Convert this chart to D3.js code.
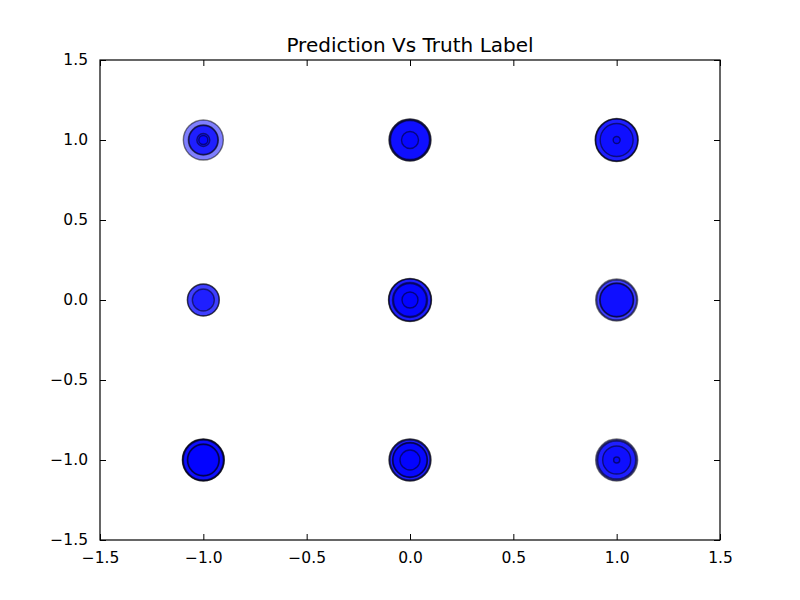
<!DOCTYPE html>
<html>
<head>
<meta charset="utf-8">
<script src="https://cdn.jsdelivr.net/npm/d3@7"></script>
<style>
  body { margin: 0; background: #fff; }
  text { font-family: "DejaVu Sans", sans-serif; }
</style>
</head>
<body>
<svg id="chart" width="800" height="600"></svg>
<script>
// predicted / truth grid positions
const predX = [-1, 0, 1, -1, 0, 1, -1, 0, 1];
const truthY = [1, 1, 1, 0, 0, 0, -1, -1, -1];
// marker sizes (matplotlib "s", pt^2) of the stacked scatter calls at each point
const markerSizes = [
  [651, 366, 340, 69, 33],
  [718, 700, 651, 620, 118],
  [753, 730, 718, 443, 20],
  [417, 404, 197],
  [753, 730, 718, 499, 443, 104],
  [718, 651, 471, 443],
  [718, 700, 684, 651, 417, 391],
  [718, 700, 651, 499, 471, 163],
  [718, 651, 588, 319, 15]
];
const xTicks = [-1.5, -1.0, -0.5, 0.0, 0.5, 1.0, 1.5];
const yTicks = [-1.5, -1.0, -0.5, 0.0, 0.5, 1.0, 1.5];

const width = 800, height = 600;
const margin = { top: 60, right: 80, bottom: 60, left: 100 };

const svg = d3.select("#chart");

const x = d3.scaleLinear().domain([-1.5, 1.5]).range([margin.left, width - margin.right]);
const y = d3.scaleLinear().domain([-1.5, 1.5]).range([height - margin.bottom, margin.top]);
// size (pt^2) -> radius (px) at 100 dpi
const r = d3.scaleSqrt().domain([0, 1]).range([0, Math.sqrt(1 / Math.PI) * 100 / 72]);

const fmt = d => d3.format(".1f")(d).replace("-", "\u2212");

const marks = [];
predX.forEach((px, i) => {
  markerSizes[i].forEach(s => marks.push({ x: px, y: truthY[i], s }));
});
// draw larger markers first
marks.sort((a, b) => b.s - a.s);

const plot = svg.append("g");
plot.selectAll("circle")
  .data(marks)
  .join("circle")
  .attr("cx", d => x(d.x))
  .attr("cy", d => y(d.y))
  .attr("r", d => r(d.s))
  .attr("fill", "rgba(0,0,255,0.5)")
  .attr("stroke", "rgba(0,0,0,0.5)")
  .attr("stroke-width", 1.4);

const tickLen = 6;
const axisStyle = g => {
  g.select(".domain").remove();
  g.selectAll(".tick line").attr("stroke", "#000");
  g.selectAll(".tick text").attr("font-size", 15.5).attr("fill", "#000").attr("font-family", "DejaVu Sans");
};

svg.append("g")
  .attr("transform", `translate(0,${height - margin.bottom})`)
  .call(d3.axisBottom(x).tickValues(xTicks).tickFormat(fmt).tickSizeInner(-tickLen).tickSizeOuter(0).tickPadding(12))
  .call(axisStyle);
svg.append("g")
  .attr("transform", `translate(0,${margin.top})`)
  .call(d3.axisTop(x).tickValues(xTicks).tickFormat("").tickSizeInner(-tickLen).tickSizeOuter(0))
  .call(axisStyle);
svg.append("g")
  .attr("transform", `translate(${margin.left},0)`)
  .call(d3.axisLeft(y).tickValues(yTicks).tickFormat(fmt).tickSizeInner(-tickLen).tickSizeOuter(0).tickPadding(12))
  .call(axisStyle);
svg.append("g")
  .attr("transform", `translate(${width - margin.right},0)`)
  .call(d3.axisRight(y).tickValues(yTicks).tickFormat("").tickSizeInner(-tickLen).tickSizeOuter(0))
  .call(axisStyle);

svg.append("rect")
  .attr("x", margin.left).attr("y", margin.top)
  .attr("width", width - margin.left - margin.right)
  .attr("height", height - margin.bottom - margin.top)
  .attr("fill", "none").attr("stroke", "#000").attr("stroke-width", 1.2);

svg.append("text")
  .attr("x", (margin.left + width - margin.right) / 2)
  .attr("y", margin.top - 8)
  .attr("text-anchor", "middle")
  .attr("font-size", 20)
  .text("Prediction Vs Truth Label");
</script>
</body>
</html>
